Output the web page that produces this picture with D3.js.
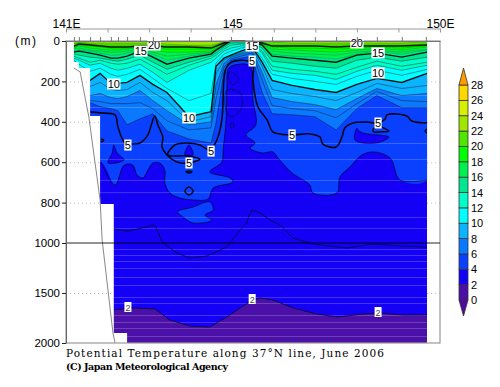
<!DOCTYPE html>
<html>
<head>
<meta charset="utf-8">
<script src="https://cdn.jsdelivr.net/npm/d3@7"></script>
<style>
	html, body { margin: 0; padding: 0; background: #fff; }
	svg { display: block; }
	text { font-family: "Liberation Sans", sans-serif; fill: #000; }
</style>
</head>
<body>
<svg id="chart" width="500" height="387"></svg>
<script>
//station positions along the section (deg E)
const stationLons = [141.19,141.31,141.58,141.82,142.08,142.25,142.47,142.78,143.09,143.43,143.96,144.49,144.61,144.80,144.97,145.21,145.48,145.72,145.96,146.44,146.99,147.50,148.00,148.48,149.08,149.69];
const tickStations = [141.19,141.31,141.58,141.82,142.08,142.25,142.47,142.78,143.09,143.43,143.96,144.49,144.97,145.48,145.96,146.44,146.99,147.50,148.00,148.48,149.08,149.66];

//depth (m) of each isotherm at the stations
const iso6 = [165,195,305,325,335,345,415,385,360,445,485,505,405,155,95,85,75,255,360,365,375,440,335,270,330,330];
const iso7 = [155,185,295,300,310,310,310,305,335,395,440,430,285,130,90,75,60,195,320,335,345,380,310,250,295,300];
const iso8 = [145,175,270,260,280,285,275,245,295,345,415,400,215,110,80,65,50,155,280,300,315,340,285,235,270,260];
const iso9 = [135,165,225,205,240,245,240,205,255,295,400,375,165,95,75,60,40,125,240,260,275,295,255,210,235,220];
const iso10 = [125,155,195,160,210,210,205,170,215,255,375,350,125,85,70,50,30,105,195,220,240,255,215,185,205,160];
const iso11 = [95,115,150,135,165,175,165,140,185,235,295,260,110,65,50,35,25,85,165,185,200,215,175,145,170,140];
const iso12 = [85,95,120,110,135,145,135,115,155,205,145,105,85,50,35,25,20,60,145,160,170,190,150,120,145,120];
const iso13 = [75,85,105,95,110,115,110,90,125,165,120,85,70,40,20,15,15,50,125,140,150,165,130,100,125,105];
const iso14 = [65,70,80,85,95,100,90,70,105,140,105,75,60,30,10,10,10,35,100,110,125,135,95,80,100,80];
const iso15 = [55,50,60,70,85,85,75,50,80,115,85,65,45,20,0,0,5,20,75,85,95,105,70,60,80,55];
const iso16 = [50,45,50,60,70,70,60,45,65,95,75,60,45,20,0,0,0,20,65,75,80,90,65,50,65,45];
const iso17 = [40,35,45,50,55,55,50,40,55,75,65,55,40,15,0,0,0,15,50,60,65,70,55,45,55,40];
const iso18 = [35,25,35,40,45,45,40,35,45,55,55,50,35,15,0,0,0,15,40,45,50,55,45,35,45,30];
const iso19 = [30,20,25,30,35,35,35,30,35,40,40,40,30,10,0,0,0,10,30,35,35,40,35,30,35,25];
const iso20 = [25,15,20,25,30,30,30,25,25,30,30,35,25,10,0,0,0,10,25,25,25,30,25,25,25,20];
const iso21 = [15,10,15,20,20,20,20,20,20,25,25,30,20,5,0,0,0,5,20,20,20,20,20,20,20,15];
const iso22 = [10,5,10,10,10,10,10,10,10,15,20,20,15,5,0,0,0,0,5,10,10,10,10,10,10,5];

//deep isotherms, [lon, depth]
const line2 = [[141.19,1670],[142.15,1670],[142.61,1650],[143.14,1660],[143.50,1770],[143.98,1830],[144.46,1840],[144.87,1740],[145.48,1570],[145.67,1550],[145.98,1570],[146.46,1650],[147.04,1710],[147.52,1740],[148.15,1710],[148.56,1700],[149.11,1720],[149.69,1720]];
const line3 = [[142.15,931],[142.49,941],[143.14,911],[143.33,1000],[143.67,1100],[143.98,1150],[144.39,1130],[144.87,1040],[145.19,936],[145.35,901],[145.38,876],[145.48,837],[145.67,851],[145.91,886],[146.15,911],[146.46,975],[146.94,1010],[147.76,1050],[148.39,1010],[149.04,1030],[149.69,1040]];
const line4 = [[141.19,599],[141.84,599],[142.18,713],[142.40,614],[142.61,614],[142.71,663],[142.85,678],[142.97,639],[143.09,604],[143.26,604],[143.38,639],[143.38,703],[143.50,752],[143.74,777],[144.06,787],[144.42,782],[144.54,728],[145.02,698],[144.95,678],[144.46,648],[144.75,599],[144.78,540],[144.85,391],[144.87,243],[144.92,134],[145.19,114],[145.43,124],[145.50,292],[145.57,416],[145.33,465],[145.55,505],[145.43,530],[145.72,554],[145.98,549],[146.10,579],[146.44,653],[146.87,713],[146.94,752],[147.52,752],[147.59,673],[147.83,624],[148.12,564],[148.39,549],[148.80,579],[149.04,688],[149.69,688]];
const line5 = [[141.58,351],[141.82,356],[142.18,366],[142.25,426],[142.42,505],[142.59,510],[142.78,505],[142.97,465],[143.05,416],[143.14,371],[143.21,416],[143.33,475],[143.31,525],[143.43,564],[143.67,599],[143.96,604],[144.22,584],[143.91,569],[143.45,564],[143.62,515],[143.91,505],[144.22,515],[144.46,540],[144.63,490],[144.75,391],[144.80,193],[144.85,134],[144.99,104],[145.38,99],[145.50,119],[145.50,193],[145.62,327],[145.84,391],[145.98,450],[146.39,465],[146.87,460],[147.11,475],[147.18,510],[147.50,525],[147.64,475],[147.71,431],[147.91,406],[148.24,401],[148.51,406],[148.68,386],[148.72,366],[149.20,371],[149.32,396],[149.69,406]];

//closed pockets
const cold4a = [[142.15,515],[142.23,554],[142.40,589],[142.01,604],[142.11,554]];
const cold4b = [[143.96,515],[144.06,564],[143.86,564]];
const cold4c = [[148.00,431],[147.95,490],[148.48,505],[148.77,475],[148.15,455],[148.03,441]];
const warm4 = [[143.69,846],[144.06,822],[144.46,797],[144.54,837],[144.34,861],[144.51,886],[144.06,901],[143.82,871]];
const loop3a = [[144.92,153],[145.09,168],[145.14,193],[145.02,218],[144.92,188]];
const loop3b = [[144.87,243],[145.19,257],[145.23,327],[144.99,376],[144.87,356]];
const loop3c = [[144.95,411],[145.02,406],[145.04,426],[144.97,431]];
const loop5a = [[148.39,436],[148.56,426],[148.77,446],[148.56,450],[148.41,450]];
const loop5b = [[143.89,648],[143.96,644],[144.03,648],[143.96,653]];
const loop5c = [[143.86,743],[143.96,723],[144.06,743],[143.96,762]];
const open5a = [[141.84,485],[141.91,490],[141.84,500]];
const open5b = [[149.69,436],[149.64,446],[149.69,455]];

//sea bed and the bottom steps of the grid
const seabed = [[141.19,134],[141.34,153],[141.55,376],[141.82,787],[141.87,985],[142.13,1900],[142.18,2000]];
const stepLons = [141,141.19,141.31,141.58,141.82,142.15,142.47];
const stepDepths = [0,104,134,371,807,1900];

//lighter rows of the interpolated grid
const rowDepths = [267,327,505,584,688,748,871,926,1060,1120,1180,1250,1340,1420,1540,1600,1720,1790,1850,1930];

const labelLons = [143.12,142.80,142.15,143.96,142.49,143.96,144.49,145.48,145.48,146.44,148.51,148.00,148.51,148.51];
const labelDepths = [20,50,213,381,515,604,545,25,99,465,406,10,59,158];
const labelTexts = ["20","15","10","10","5","5","5","15","5","5","5","20","15","10"];
const label2Lons = [142.49,145.48,148.51];
const label2Depths = [1640,1560,1690];

const bandLevels = [0,2,4,6,8,10,12,14,16,18,20,22,24,26,28];
const bandColors = ["#4b10a8","#1400f5","#0a40ff","#0a78ff","#0ab4ff","#00ffff","#00ffc8","#00e690","#00f050","#00ff00","#50e600","#a0e600","#d8f000","#ffd800"];
const overColor = "#ff9c00";
const underColor = "#500aa0";

const lonTicks = [141,142,143,144,145,146,147,148,149,150];
const lonLabels = {141: "141E", 145: "145", 150: "150E"};
const depthTicks = [0,200,400,600,800,1000,1500,2000];
const dotDepths = [200,400,600,800,1500];

const x = d3.scaleLinear().domain([141,150]).range([66,440]);
const y = d3.scaleLinear().domain([0,1000,2000]).range([41,243,343]);
const barY = d3.scaleLinear().domain([0,28]).range([300,85]);

const svg = d3.select("#chart");
const line = d3.line().x(d => x(d[0])).y(d => y(d[1]));
const smooth = d3.line().x(d => x(d[0])).y(d => y(d[1])).curve(d3.curveCatmullRom.alpha(0.5));
const smoothClosed = d3.line().x(d => x(d[0])).y(d => y(d[1])).curve(d3.curveCatmullRomClosed.alpha(0.5));

const lastLon = stationLons[stationLons.length - 1];
const atStations = depths => depths.map((d, i) => [stationLons[i], d]);
const closeTop = pts => [[stationLons[0],0]].concat(pts, [[lastLon,0]]);

/**
 * [Fills everything warmer than an isotherm]
 */
function fillAbove(pts, color, path) {
	svg.append("path")
		.attr("d", path(closeTop(pts)) + "Z")
		.attr("fill", color);
}

function drawLine(pts, path, width, opacity) {
	svg.append("path")
		.attr("d", path(pts))
		.attr("fill", "none")
		.attr("stroke", "#000")
		.attr("stroke-width", width)
		.attr("stroke-opacity", opacity);
}

//base colour, coldest band
svg.append("rect")
	.attr("x", x(stationLons[0])).attr("y", y(0))
	.attr("width", x(lastLon) - x(stationLons[0])).attr("height", y(2000) - y(0))
	.attr("fill", bandColors[0]);

fillAbove(line2, bandColors[1], line);
fillAbove(line4, bandColors[2], smooth);
[cold4a, cold4b, cold4c].forEach(p => {
	svg.append("path").attr("d", smoothClosed(p)).attr("fill", bandColors[1]);
});
svg.append("path").attr("d", smoothClosed(warm4)).attr("fill", bandColors[2]);

const warmSets = [[iso6,3],[iso8,4],[iso10,5],[iso12,6],[iso14,7],[iso16,8],[iso18,9],[iso20,10],[iso22,11]];
warmSets.forEach(s => fillAbove(atStations(s[0]), bandColors[s[1]], line));

//grid rows show through the fill
svg.selectAll("line.row")
	.data(rowDepths)
	.enter()
	.append("line")
	.attr("x1", x(stationLons[0])).attr("x2", x(lastLon))
	.attr("y1", d => y(d) + 0.5).attr("y2", d => y(d) + 0.5)
	.attr("stroke", "#fff").attr("stroke-opacity", 0.2);

//contours
[iso6,iso7,iso8,iso9,iso11,iso12,iso13,iso14].forEach(d => {
	drawLine(atStations(d), line, 0.7, 0.55);
});
[iso16,iso17,iso18,iso19,iso21,iso22].forEach(d => {
	drawLine(atStations(d), line, 0.6, 0.3);
});
[iso10,iso15,iso20].forEach(d => drawLine(atStations(d), line, 1.4, 0.9));
drawLine(line2.slice(1), line, 0.8, 0.8);
drawLine(line3, line, 0.8, 0.8);
drawLine(line4.slice(1), smooth, 0.8, 0.7);
[cold4a,cold4b,cold4c,warm4,loop3a,loop3b,loop3c].forEach(p => drawLine(p, smoothClosed, 0.7, 0.7));
drawLine(line5, smooth, 1.6, 0.9);
[loop5a,loop5b,loop5c].forEach(p => drawLine(p, smoothClosed, 1.5, 0.9));
[open5a,open5b].forEach(p => drawLine(p, smooth, 1.5, 0.9));

//white out below the bottom steps, one shape so no seams show
let stairPath = "M" + x(141) + "," + y(0);
stepDepths.forEach((d, i) => {
	stairPath += "L" + x(stepLons[i]) + "," + y(d) + "L" + x(stepLons[i + 1]) + "," + y(d);
});
stairPath += "L" + x(stepLons[stepLons.length - 1]) + "," + y(2000) + "L" + x(141) + "," + y(2000) + "Z";
svg.append("path").attr("d", stairPath).attr("fill", "#fff");
svg.append("rect")
	.attr("x", x(lastLon)).attr("y", y(0))
	.attr("width", x(150) - x(lastLon)).attr("height", y(2000) - y(0))
	.attr("fill", "#fff");

//dotted depth lines, only seen where there is no data
svg.selectAll(null)
	.data(dotDepths)
	.enter()
	.append("line")
	.attr("x1", x(141))
	.attr("x2", d => x(stepLons[d3.bisectRight(stepDepths, d)]))
	.attr("y1", d => y(d) + 0.5).attr("y2", d => y(d) + 0.5)
	.attr("stroke", "#bbb").attr("stroke-dasharray", "1,3");
svg.selectAll(null)
	.data(dotDepths)
	.enter()
	.append("line")
	.attr("x1", x(lastLon)).attr("x2", x(150))
	.attr("y1", d => y(d) + 0.5).attr("y2", d => y(d) + 0.5)
	.attr("stroke", "#bbb").attr("stroke-dasharray", "1,3");

svg.append("path")
	.attr("d", line(seabed))
	.attr("fill", "none").attr("stroke", "#888").attr("stroke-width", 1);

//frame
svg.append("rect")
	.attr("x", x(141)).attr("y", y(0))
	.attr("width", x(150) - x(141)).attr("height", y(2000) - y(0))
	.attr("fill", "none").attr("stroke", "#999").attr("stroke-width", 1.2);
svg.append("line")
	.attr("x1", x(141)).attr("x2", x(150))
	.attr("y1", y(1000)).attr("y2", y(1000))
	.attr("stroke", "#000").attr("stroke-opacity", 0.85);

//labels on the contours
labelTexts.forEach((t, i) => {
	const w = t.length * 6.2 + 1;
	const cx = x(labelLons[i]);
	const cy = y(labelDepths[i]);
	svg.append("rect")
		.attr("x", cx - w / 2).attr("y", cy - 5.5)
		.attr("width", w).attr("height", 11)
		.attr("fill", "#fff");
	svg.append("text")
		.attr("x", cx).attr("y", cy + 4)
		.attr("text-anchor", "middle")
		.style("font-size", "11px")
		.text(t);
});
label2Lons.forEach((lon, i) => {
	const cx = x(lon);
	const cy = y(label2Depths[i]);
	svg.append("rect")
		.attr("x", cx - 3.5).attr("y", cy - 5)
		.attr("width", 7).attr("height", 10)
		.attr("fill", "#fff");
	svg.append("text")
		.attr("x", cx).attr("y", cy + 3.5)
		.attr("text-anchor", "middle")
		.style("font-size", "9px")
		.style("fill", "#444")
		.text("2");
});

//axes
const topAxis = svg.append("g")
	.attr("transform", "translate(0,28.5)")
	.call(d3.axisTop(x).tickValues(lonTicks).tickSize(-4).tickSizeOuter(0).tickPadding(1)
		.tickFormat(d => lonLabels[d] || ""));
topAxis.selectAll("path, line").attr("stroke", "#999");
topAxis.selectAll("text").style("font-size", "12px").attr("fill", "#000");

const stationAxis = svg.append("g")
	.attr("transform", "translate(0,41)")
	.call(d3.axisTop(x).tickValues(tickStations).tickSize(4).tickSizeOuter(0).tickFormat(""));
stationAxis.selectAll("path, line").attr("stroke", "#777");

const leftAxis = svg.append("g")
	.attr("transform", "translate(66,0)")
	.call(d3.axisLeft(y).tickValues(depthTicks).tickSize(4).tickSizeOuter(0).tickPadding(2)
		.tickFormat(d3.format("d")));
leftAxis.select("path").attr("stroke", "#666");
leftAxis.selectAll("line").attr("stroke", "#222");
leftAxis.selectAll("text").style("font-size", "11.5px").attr("fill", "#000");

svg.append("text")
	.attr("x", 15).attr("y", 45)
	.attr("textLength", 21)
	.style("font-size", "12px")
	.text("(m)");

//colour bar
const barX0 = 459;
const barX1 = 468;
const barMid = (barX0 + barX1) / 2;
svg.selectAll("rect.band")
	.data(bandColors)
	.enter()
	.append("rect")
	.attr("x", barX0).attr("width", barX1 - barX0)
	.attr("y", (d, i) => barY(bandLevels[i + 1]))
	.attr("height", (d, i) => barY(bandLevels[i]) - barY(bandLevels[i + 1]))
	.attr("fill", d => d)
	.attr("stroke", "#333").attr("stroke-width", 0.8);
svg.append("polygon")
	.attr("points", [[barX0, barY(28)], [barMid, 68], [barX1, barY(28)]].join(" "))
	.attr("fill", overColor).attr("stroke", "#333").attr("stroke-width", 0.8);
svg.append("polygon")
	.attr("points", [[barX0, barY(0)], [barMid, 316], [barX1, barY(0)]].join(" "))
	.attr("fill", underColor).attr("stroke", "#333").attr("stroke-width", 0.8);

const barAxis = svg.append("g")
	.attr("transform", "translate(468,0)")
	.call(d3.axisRight(barY).tickValues(bandLevels).tickSize(0).tickPadding(3));
barAxis.select("path").remove();
barAxis.selectAll("text").style("font-size", "11px").attr("fill", "#000");

//caption
svg.append("text")
	.attr("x", 66).attr("y", 357)
	.attr("textLength", 318)
	.style("font-family", "'DejaVu Serif', serif")
	.style("font-size", "10.5px")
	.text("Potential Temperature along 37°N line, June 2006");
svg.append("text")
	.attr("x", 66).attr("y", 370)
	.attr("textLength", 162)
	.style("font-family", "'DejaVu Serif', serif")
	.style("font-size", "9.5px")
	.style("font-weight", "bold")
	.text("(C) Japan Meteorological Agency");
</script>
</body>
</html>
